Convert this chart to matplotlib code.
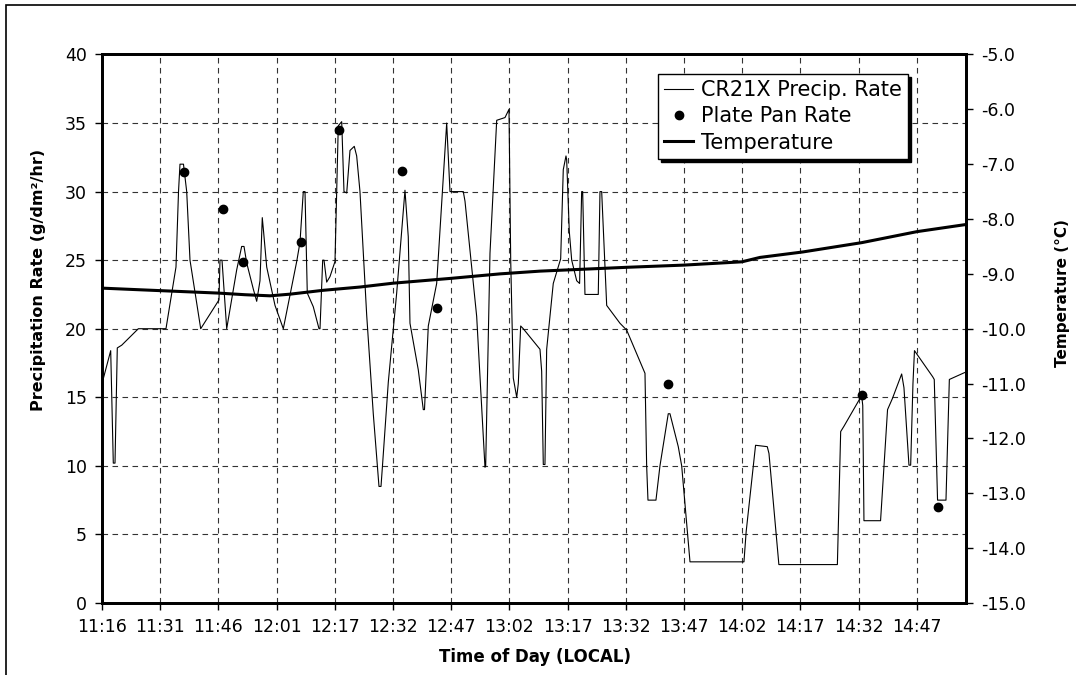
import matplotlib.pyplot as plt
from matplotlib.patches import Rectangle

# time axis in minutes after 11:16 local
precip_t = [0.0, 2.24, 2.91, 3.35, 3.94, 5.08, 9.36, 16.49, 19.07, 19.72, 20.10, 21.00, 21.83, 22.68,
            25.44, 30.15, 30.41, 30.93, 32.14, 34.72, 36.00, 36.60, 37.29, 38.99, 39.87, 40.72, 41.31,
            41.67, 42.45, 44.59, 46.73, 50.18, 51.03, 51.88, 52.32, 52.91, 54.46, 55.93, 56.19, 56.88,
            57.22, 57.91, 58.76, 60.05, 60.49, 60.90, 61.78, 62.37, 63.07, 63.92, 65.02, 65.64, 66.49,
            68.22, 69.92, 71.39, 71.91, 72.34, 73.79, 75.95, 78.09, 78.94, 79.38, 81.52, 82.81, 83.12,
            84.10, 86.26, 88.84, 89.69, 93.12, 93.56, 96.57, 98.71, 98.89, 100.00, 101.73, 103.87,
            104.90, 105.34, 106.01, 106.89, 107.30, 107.91, 108.58, 112.89, 113.32, 113.74, 114.17,
            114.61, 116.31, 118.22, 118.89, 119.59, 119.77, 120.44, 121.06, 122.35, 123.10, 123.63,
            123.89, 124.48, 127.91, 128.35, 128.79, 130.08, 133.50, 135.23, 139.95, 140.38, 140.72,
            142.78, 143.81, 145.95, 146.39, 148.53, 149.41, 151.55, 165.46, 166.03, 168.45, 171.47,
            171.91, 174.46, 189.54, 190.39, 191.26, 195.13, 195.77, 196.08, 196.39, 200.67, 202.47,
            203.71, 206.11, 206.70, 207.99, 208.43, 209.02, 209.41, 214.10, 214.51, 215.36, 217.53,
            218.40, 222.32]
precip_rate = [16.0, 18.4, 10.2, 10.2, 18.6, 18.8, 20.0, 20.0, 24.5, 30.0, 32.0, 32.0, 30.0, 25.0,
               20.0, 22.1, 25.0, 25.0, 20.0, 24.3, 26.0, 26.0, 24.8, 22.9, 22.0, 23.5, 28.1,
               27.0, 24.5, 21.7, 20.0, 24.9, 26.3, 30.0, 30.0, 22.6, 21.6, 20.0, 20.0, 25.0,
               25.0, 23.4, 23.8, 24.9, 29.9, 34.8, 35.1, 30.0, 29.9, 33.0, 33.3, 32.6, 30.0,
               21.0, 13.8, 8.5, 8.5, 10.2, 16.1, 22.6, 30.1, 26.7, 20.4, 17.0, 14.1, 14.1,
               20.2, 23.3, 35.0, 30.0, 30.0, 29.3, 20.9, 9.9, 10.0, 25.5, 35.2, 35.4,
               36.0, 25.0, 16.4, 15.0, 16.0, 20.2, 20.0, 18.5, 16.9, 10.1, 10.1,
               18.5, 23.3, 25.1, 31.6, 32.6, 32.3, 27.1, 25.0, 23.5, 23.3, 30.0,
               30.0, 22.5, 22.5, 30.0, 30.0, 21.7, 20.4, 19.9, 16.75, 10.0, 7.5,
               7.5, 10.0, 13.8, 13.8, 11.4, 10.0, 3.0, 3.0, 5.2, 11.5, 11.4,
               10.9, 2.8, 2.8, 12.5, 12.9, 14.8, 15.2, 14.4, 6.0, 6.0, 14.1,
               14.9, 16.7, 15.7, 10.05, 10.05, 16.0, 18.4, 16.5, 16.3, 7.5, 7.5,
               16.3, 16.8]

pan_t = [21.21, 31.26, 36.26, 51.29, 61.16, 77.24, 86.26, 145.95, 195.77, 215.57]
pan_rate = [31.4, 28.7, 24.9, 26.3, 34.5, 31.5, 21.5, 16.0, 15.2, 7.0]

temp_t = [0.0, 9.79, 16.49, 29.90, 36.86, 43.30, 48.45, 56.96, 66.49, 75.00, 90.21, 102.58,
          112.89, 135.31, 150.0, 164.95, 169.59, 180.67, 195.87, 210.05, 222.68]
temp_c = [-9.26, -9.29, -9.31, -9.35, -9.38, -9.40, -9.37, -9.30, -9.24, -9.17, -9.08, -9.00,
          -8.95, -8.88, -8.84, -8.78, -8.70, -8.60, -8.43, -8.23, -8.10]

time_labels = ['11:16', '11:31', '11:46', '12:01', '12:17', '12:32', '12:47', '13:02',
               '13:17', '13:32', '13:47', '14:02', '14:17', '14:32', '14:47']

plt.rcParams['font.family'] = 'DejaVu Sans'

fig = plt.figure(figsize=(10.76, 6.75), dpi=100)
ax = fig.add_axes([0.0948, 0.1067, 0.8030, 0.8126])
ax2 = ax.twinx()

l1, = ax.plot(precip_t, precip_rate, color='black', lw=0.8, label='CR21X Precip. Rate')
l2, = ax.plot(pan_t, pan_rate, 'o', color='black', ms=6, label='Plate Pan Rate')
l3, = ax2.plot(temp_t, temp_c, color='black', lw=2.2, label='Temperature')

ax.set_xlim(0, 222.7)
ax.set_ylim(0, 40)
ax2.set_ylim(-15, -5)

ax.set_xticks(range(0, 15 * len(time_labels), 15))
ax.set_xticklabels(time_labels)
ax.set_yticks(range(0, 41, 5))
ax2.set_yticks(range(-15, -4))
ax2.set_yticklabels([f'{v:.1f}' for v in range(-15, -4)])

ax.grid(True, color='#333333', linestyle=(0, (5, 4)), lw=0.8)
ax.tick_params(direction='out', length=5, width=1, labelsize=12.5, pad=6)
ax2.tick_params(direction='out', length=5, width=1, labelsize=12.5, pad=6)
for a in (ax, ax2):
    for s in a.spines.values():
        s.set_linewidth(2)

fig.text(39 / 1076, 1 - 280 / 675, 'Precipitation Rate (g/dm²/hr)', rotation=90,
         ha='center', va='center', fontsize=11.5, fontweight='bold')
fig.text(1063 / 1076, 1 - 293 / 675, 'Temperature (°C)', rotation=90,
         ha='center', va='center', fontsize=11, fontweight='bold')
fig.text(535 / 1076, 1 - 657 / 675, 'Time of Day (LOCAL)',
         ha='center', va='center', fontsize=12, fontweight='bold')

leg = ax2.legend([l1, l2, l3], [l1.get_label(), l2.get_label(), l3.get_label()],
                 loc='upper left', bbox_to_anchor=(658 / 1076, 1 - 74 / 675),
                 bbox_transform=fig.transFigure, borderaxespad=0, fontsize=15,
                 fancybox=False, shadow={'color': 'black', 'alpha': 1},
                 framealpha=1, edgecolor='black', handlelength=1.4,
                 handletextpad=0.35, labelspacing=0.3, borderpad=0.3)
leg.get_frame().set_linewidth(1)

# outer chart-area border
fig.patches.append(Rectangle((6 / 1076, -0.1), 2, 1.1 - 5 / 675, transform=fig.transFigure,
                             fill=False, edgecolor='black', lw=1.2))

fig.savefig('out.png', dpi=100)
